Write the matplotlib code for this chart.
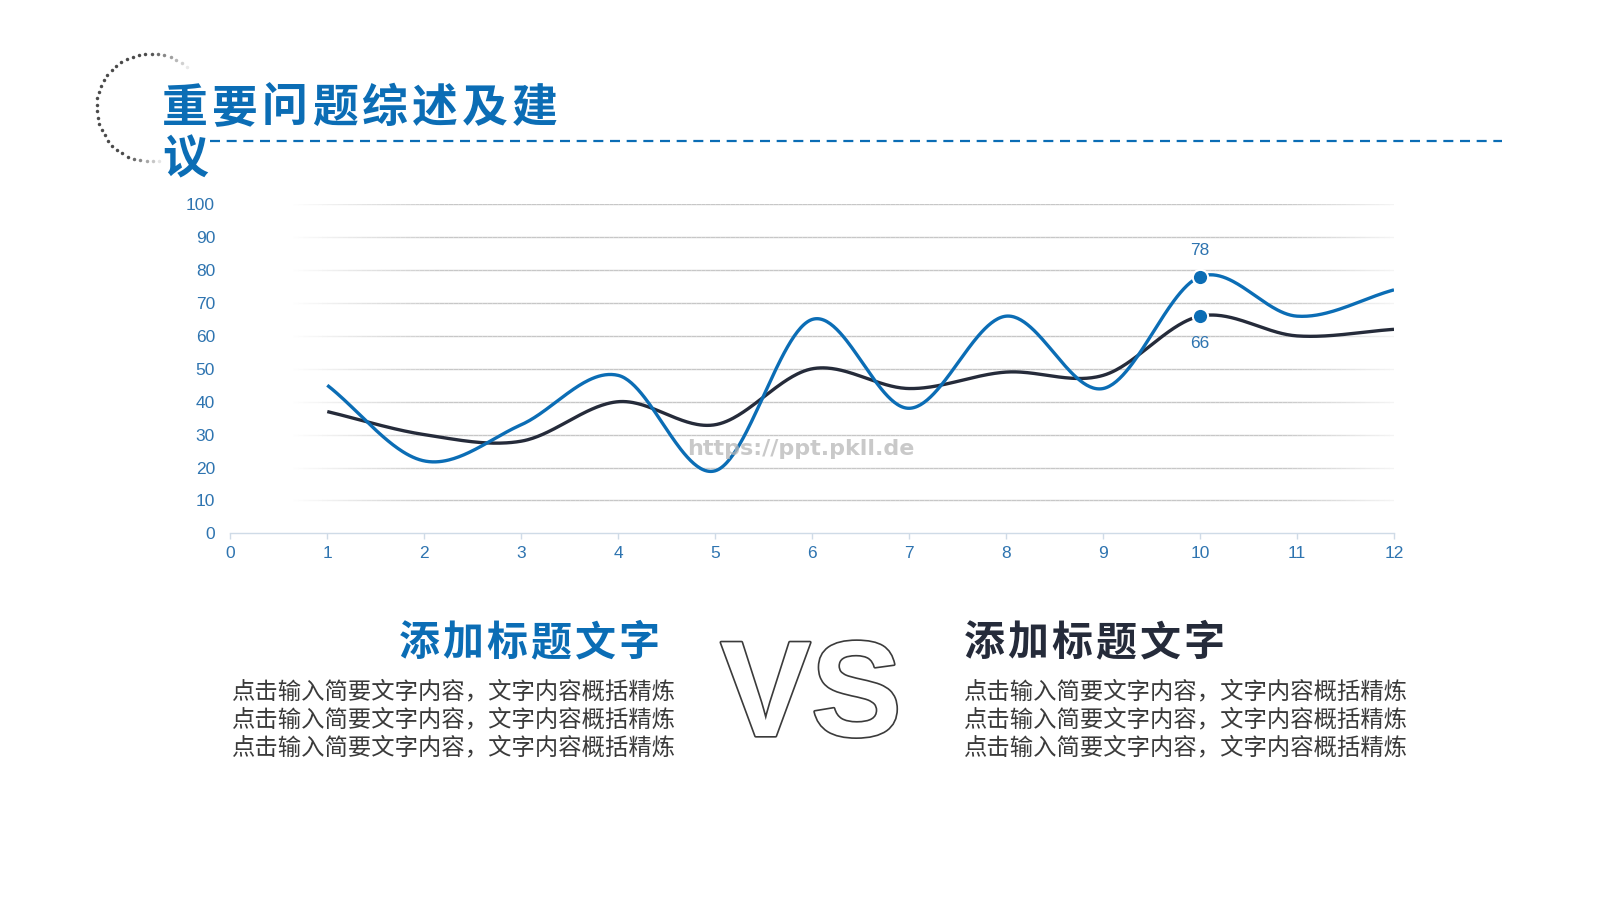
import numpy as np
import matplotlib
matplotlib.use("Agg")
import matplotlib.pyplot as plt
from matplotlib.collections import LineCollection
import matplotlib.patheffects as pe

# ---------------- data ----------------
x_vals = [1, 2, 3, 4, 5, 6, 7, 8, 9, 10, 11, 12]
series_blue = [45, 22, 33, 48, 19, 65, 38, 66, 44, 78, 66, 74]
series_dark = [37, 30, 28, 40, 33, 50, 44, 49, 48, 66, 60, 62]
x_ticks = list(range(0, 13))
y_ticks = [0, 10, 20, 30, 40, 50, 60, 70, 80, 90, 100]
highlight_x = 10
title_line1 = "重要问题综述及建"
title_line2 = "议"
sub_title = "添加标题文字"
body_line = "点击输入简要文字内容，文字内容概括精炼"
watermark = "https://ppt.pkll.de"

BLUE = "#0b6db5"
DARK = "#252b3a"
TICK_BLUE = "#2e74b0"
CJK = ["Noto Sans CJK SC", "DejaVu Sans"]
LAT = ["Liberation Sans", "DejaVu Sans"]

W, H = 1600, 900
fig = plt.figure(figsize=(16, 9), dpi=100)
fig.patch.set_facecolor("white")


def fx(px):
    return px / W


def fy(py):
    return 1 - py / H


def smooth(xs, ys, n=60):
    xs = np.asarray(xs, float)
    ys = np.asarray(ys, float)
    k = len(xs)
    mx = np.zeros(k)
    my = np.zeros(k)
    for i in range(k):
        if i == 0:
            mx[i], my[i] = xs[1] - xs[0], ys[1] - ys[0]
        elif i == k - 1:
            mx[i], my[i] = xs[-1] - xs[-2], ys[-1] - ys[-2]
        else:
            mx[i] = (xs[i + 1] - xs[i - 1]) / 2
            my[i] = (ys[i + 1] - ys[i - 1]) / 2
    ox, oy = [], []
    t = np.linspace(0, 1, n)
    h00 = 2 * t**3 - 3 * t**2 + 1
    h10 = t**3 - 2 * t**2 + t
    h01 = -2 * t**3 + 3 * t**2
    h11 = t**3 - t**2
    for i in range(k - 1):
        ox.append(h00 * xs[i] + h10 * mx[i] + h01 * xs[i + 1] + h11 * mx[i + 1])
        oy.append(h00 * ys[i] + h10 * my[i] + h01 * ys[i + 1] + h11 * my[i + 1])
    return np.concatenate(ox), np.concatenate(oy)


# ---------------- chart axes ----------------
ax_l, ax_r, ax_t, ax_b = 230.3, 1394, 204.3, 533.3
ax = fig.add_axes([fx(ax_l), fy(ax_b), fx(ax_r - ax_l), (ax_b - ax_t) / H])
ax.set_xlim(0, 12)
ax.set_ylim(0, 100)
ax.patch.set_alpha(0)

# fading gridlines
gx = np.linspace(0, 12, 241)
alpha_prof = np.clip(np.minimum((gx - 0.6) / 1.6, (12.2 - gx) / 1.4), 0, 1)
for yv in y_ticks[1:]:
    segs = [[(gx[i], yv), (gx[i + 1], yv)] for i in range(len(gx) - 1)]
    cols = [(0.78, 0.78, 0.78, a) for a in alpha_prof[:-1]]
    ax.add_collection(LineCollection(segs, colors=cols, linewidths=1.0, zorder=1))

for s in ["top", "right", "left"]:
    ax.spines[s].set_visible(False)
ax.spines["bottom"].set_color("#cfdbe7")
ax.spines["bottom"].set_linewidth(1.0)

ax.set_xticks(x_ticks)
ax.set_yticks(y_ticks)
ax.set_xticklabels([str(v) for v in x_ticks])
ax.set_yticklabels([str(v) for v in y_ticks])
ax.tick_params(axis="x", length=4, width=1, color="#cfdbe7", labelcolor=TICK_BLUE,
               labelsize=12.5, pad=5)
ax.tick_params(axis="y", length=0, labelcolor=TICK_BLUE, labelsize=12.5, pad=11)
for lbl in ax.get_xticklabels() + ax.get_yticklabels():
    lbl.set_fontfamily(LAT)

bx, by = smooth(x_vals, series_blue)
dx, dy = smooth(x_vals, series_dark)
ax.plot(dx, dy, color=DARK, lw=2.4, solid_capstyle="butt", zorder=3)
ax.plot(bx, by, color=BLUE, lw=2.4, solid_capstyle="butt", zorder=4)

hi = x_vals.index(highlight_x)
ax.plot([highlight_x], [series_blue[hi]], "o", ms=11, color=BLUE, mec="white", mew=1.5, zorder=6)
ax.plot([highlight_x], [series_dark[hi]], "o", ms=11, color=BLUE, mec="white", mew=1.5, zorder=6)
ax.annotate(str(series_blue[hi]), (highlight_x, series_blue[hi]), xytext=(0, 19),
            textcoords="offset points", ha="center", va="center", color=TICK_BLUE,
            fontsize=12.5, family=LAT)
ax.annotate(str(series_dark[hi]), (highlight_x, series_dark[hi]), xytext=(0, -20),
            textcoords="offset points", ha="center", va="center", color=TICK_BLUE,
            fontsize=12.5, family=LAT)

# watermark (translucent, over the lines)
ax.text(0.4904, 0.255, watermark, transform=ax.transAxes, ha="center", va="center",
        fontsize=16, color="#b8b8b8", alpha=0.75, fontweight="bold",
        family=["DejaVu Sans"], zorder=7)

# ---------------- decorations ----------------
deco = fig.add_axes([0, 0, 1, 1])
deco.set_xlim(0, W)
deco.set_ylim(H, 0)
deco.axis("off")
deco.patch.set_alpha(0)

# dotted arc
cx, cy, r = 150.7, 107.5, 54.0
adeg = np.arange(48, 280, 6.8)
angs = np.deg2rad(adeg)
px = cx + r * np.cos(angs)
py = cy - r * np.sin(angs)
alphas = np.clip(np.minimum((adeg - 42) / 50, (285 - adeg) / 40), 0.12, 1)
for xx, yy, a in zip(px, py, alphas):
    deco.plot(xx, yy, "o", ms=2.5, color="#4a4a4a", alpha=a, mew=0)

# dashed rule
deco.plot([210, 1502], [141, 141], color=BLUE, lw=1.6, dashes=(4.5, 3.0))

# title, per-character pitch
for i, ch in enumerate(title_line1):
    deco.text(162 + 50 * i + 23, 109, ch, ha="center", va="center", fontsize=33,
              fontweight="heavy", color=BLUE, family=CJK)
deco.text(162 + 23, 160, title_line2, ha="center", va="center", fontsize=33,
          fontweight="heavy", color=BLUE, family=CJK)

# lower titles
for i, ch in enumerate(sub_title):
    deco.text(398 + 44 * i + 21, 643, ch, ha="center", va="center", fontsize=29.5,
              fontweight="heavy", color=BLUE, family=CJK)
    deco.text(963 + 44 * i + 21, 643, ch, ha="center", va="center", fontsize=29.5,
              fontweight="heavy", color=DARK, family=CJK)

for k, yy in enumerate([692, 720, 748]):
    deco.text(231, yy, body_line, ha="left", va="center", fontsize=16.8,
              color="#3a3a3a", family=CJK)
    deco.text(963, yy, body_line, ha="left", va="center", fontsize=16.8,
              color="#3a3a3a", family=CJK)

# outlined VS
deco.text(811, 736, "VS", ha="center", va="baseline", fontsize=98, fontweight="bold",
          color="white", family=LAT,
          path_effects=[pe.Stroke(linewidth=2.4, foreground="#3b3b3b"), pe.Normal()])

fig.savefig("out.png", dpi=100, facecolor="white")
